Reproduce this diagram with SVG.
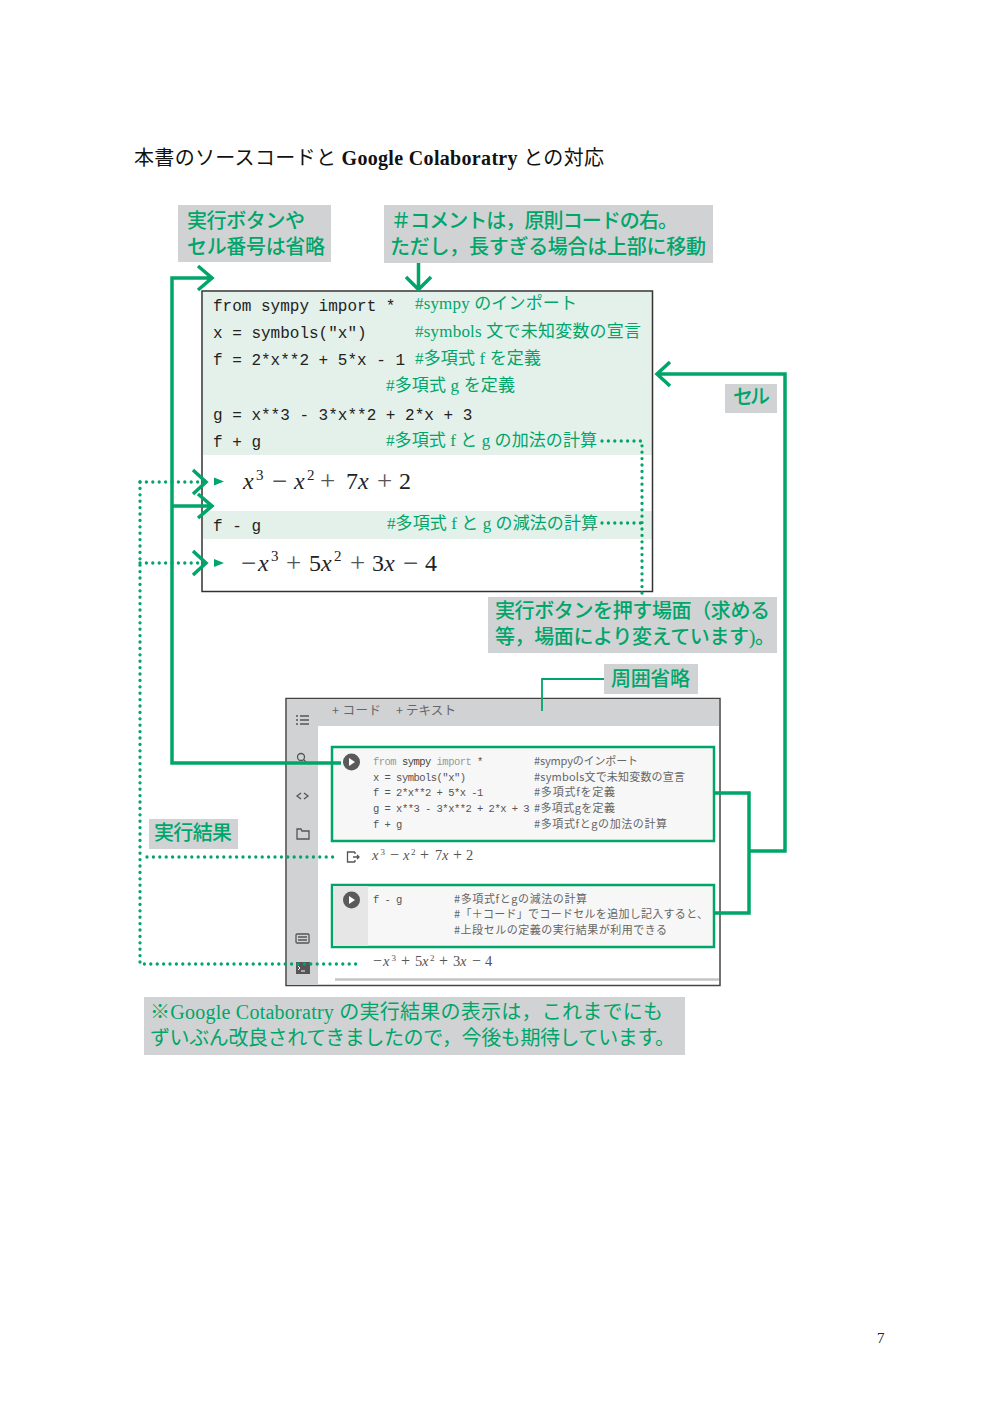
<svg xmlns="http://www.w3.org/2000/svg" width="1000" height="1419" viewBox="0 0 1000 1419">
<style>
text{font-family:"Liberation Serif","Noto Sans CJK JP",serif;white-space:pre}
.lab{fill:#00a56a;font-size:20px;font-weight:500}
.labn{fill:#00a56a;font-size:20px}
.bg{fill:#d1d2d4}
.code{font-family:"Liberation Mono","Noto Sans CJK JP",monospace;font-size:16px;fill:#222}
.cm{fill:#00a56a;font-size:17px}
.m{font-size:24px;fill:#222}
.e{font-size:15px}
.o{font-size:27px;fill:#555}
.s{font-size:14.500px;fill:#555}
.so{font-size:16px}
.se{font-size:9px}
.c2{font-family:"Liberation Mono","Noto Sans CJK JP",monospace;font-size:10.500px;fill:#555;letter-spacing:-.52px}
.c3{font-family:"Noto Sans CJK JP","Liberation Sans",sans-serif;font-size:11px;fill:#666}
.g{fill:none;stroke:#00a56a;stroke-width:3.500}
.d{fill:none;stroke:#00a56a;stroke-width:3.300;stroke-linecap:round;stroke-dasharray:0 6.400}
.ic{fill:none;stroke:#555;stroke-width:1.300}
.i{font-style:italic}
</style>
<g id="title"><text x="134" y="165" font-size="20" fill="#111" textLength="470" style="font-family:'Noto Sans CJK JP',sans-serif">本書のソースコードと<tspan font-weight="700" style="font-family:'Liberation Serif',serif"> Google Colaboratry </tspan>との対応</text></g>

<g id="note-run"><rect class="bg" x="178" y="205" width="153" height="57"/><text class="lab" x="187" y="228" textLength="118">実行ボタンや</text><text class="lab" x="187" y="254" textLength="138">セル番号は省略</text></g>
<g id="note-comment"><rect class="bg" x="384" y="205" width="329" height="58"/><text class="lab" x="391" y="228" textLength="287">＃コメントは，原則コードの右。</text><text class="lab" x="390" y="254" textLength="316">ただし，長すぎる場合は上部に移動</text></g>

<g id="code-panel">
<rect x="203" y="292" width="449" height="163" fill="#e3f1ea"/>
<rect x="203" y="511" width="449" height="28" fill="#e3f1ea"/>
<rect x="202" y="291" width="450.500" height="300.500" fill="none" stroke="#333" stroke-width="1.500"/>
<text class="code" x="213" y="311">from sympy import *</text>
<text class="code" x="213" y="338">x = symbols("x")</text>
<text class="code" x="213" y="365">f = 2*x**2 + 5*x - 1</text>
<text class="code" x="213" y="420">g = x**3 - 3*x**2 + 2*x + 3</text>
<text class="code" x="213" y="447">f + g</text>
<text class="code" x="213" y="531">f - g</text>
<text class="cm" x="415" y="309" textLength="162">#sympy のインポート</text>
<text class="cm" x="415" y="337" textLength="226">#symbols 文で未知変数の宣言</text>
<text class="cm" x="415" y="364" textLength="126">#多項式 f を定義</text>
<text class="cm" x="386" y="391" textLength="129">#多項式 g を定義</text>
<text class="cm" x="386" y="446" textLength="211">#多項式 f と g の加法の計算</text>
<text class="cm" x="387" y="529" textLength="211">#多項式 f と g の減法の計算</text>
<polygon points="214,477.500 224,481.500 214,485.500" fill="#00a56a"/>
<polygon points="214,559 224,563 214,567" fill="#00a56a"/>
<text class="m" y="489"><tspan class="i" x="243">x</tspan><tspan class="e" x="256" y="480">3</tspan><tspan class="o" x="272" y="490">−</tspan><tspan class="i" x="294" y="489">x</tspan><tspan class="e" x="307" y="480">2</tspan><tspan class="o" x="320" y="490">+</tspan><tspan x="346" y="489">7</tspan><tspan class="i" x="358">x</tspan><tspan class="o" x="377" y="490">+</tspan><tspan x="399" y="489">2</tspan></text>
<text class="m" y="571"><tspan class="o" x="241" y="572">−</tspan><tspan class="i" x="258" y="571">x</tspan><tspan class="e" x="271" y="561">3</tspan><tspan class="o" x="286" y="572">+</tspan><tspan x="309" y="571">5</tspan><tspan class="i" x="321">x</tspan><tspan class="e" x="334" y="561">2</tspan><tspan class="o" x="350" y="572">+</tspan><tspan x="372" y="571">3</tspan><tspan class="i" x="384">x</tspan><tspan class="o" x="403" y="572">−</tspan><tspan x="425" y="571">4</tspan></text>
</g>

<g id="note-cell"><rect class="bg" x="725" y="384" width="52" height="29"/><text class="lab" x="733" y="404" textLength="37">セル</text></g>
<g id="note-press"><rect class="bg" x="488" y="597" width="289" height="56"/><text class="lab" x="495" y="618" textLength="275">実行ボタンを押す場面（求める</text><text class="lab" x="495" y="644" textLength="280">等，場面により変えています)。</text></g>
<g id="note-omit"><rect class="bg" x="604" y="664" width="94" height="30"/><text class="lab" x="611" y="686" textLength="79">周囲省略</text></g>
<g id="note-result"><rect class="bg" x="149" y="819" width="89" height="30"/><text class="lab" x="154" y="840" textLength="78">実行結果</text></g>
<g id="note-bottom"><rect class="bg" x="144" y="997" width="541" height="58"/><text class="labn" x="150" y="1019" textLength="513">※Google Cotaboratry の実行結果の表示は，これまでにも</text><text class="labn" x="150" y="1045" textLength="525">ずいぶん改良されてきましたので，今後も期待しています。</text></g>

<g id="colab">
<rect x="286" y="698.500" width="434" height="287" fill="#fff" stroke="#444" stroke-width="1.500"/>
<rect x="287" y="699" width="31" height="286" fill="#d1d2d4"/>
<rect x="287" y="699" width="432" height="27" fill="#d1d2d4"/>
<text x="332" y="715" font-size="12.500" fill="#666" textLength="49" style="font-family:'Noto Sans CJK JP',sans-serif">+ コード</text>
<text x="396" y="715" font-size="12.500" fill="#666" textLength="60" style="font-family:'Noto Sans CJK JP',sans-serif">+ テキスト</text>
<path class="ic" d="M296 716h2M300 716h9M296 720h2M300 720h9M296 724h2M300 724h9"/>
<circle class="ic" cx="301" cy="757" r="3.500"/><path class="ic" d="M303.500 759.500l3 3"/>
<path class="ic" d="M301 793l-4 3 4 3M304 793l4 3-4 3"/>
<path class="ic" d="M297 829h4l1 2h7v8h-12z"/>
<rect class="ic" x="296" y="934" width="13" height="9" rx="1"/><path class="ic" d="M298 937h9M298 940h9" stroke-width="1"/>
<rect x="296" y="962" width="14" height="12" fill="#555"/><path d="M298 966l2 2-2 2M301 971h4" fill="none" stroke="#fff" stroke-width="1"/>
</g>
<g id="cell-1">
<rect x="332" y="747" width="382" height="94" fill="#f7f7f7" stroke="#00a56a" stroke-width="2.500"/>
<circle cx="351.500" cy="762" r="8.500" fill="#5a5a5a"/><polygon points="349,758 349,766 355,762" fill="#fff"/>
<text class="c2" x="373" y="765" style="fill:#999">from <tspan style="fill:#444">sympy</tspan> import <tspan style="fill:#555">*</tspan></text>
<text class="c2" x="373" y="781">x = symbols("x")</text>
<text class="c2" x="373" y="796">f = 2*x**2 + 5*x -1</text>
<text class="c2" x="373" y="812">g = x**3 - 3*x**2 + 2*x + 3</text>
<text class="c2" x="373" y="828">f + g</text>
<text class="c3" x="534" y="765" textLength="104">#sympyのインポート</text>
<text class="c3" x="534" y="781" textLength="151">#symbols文で未知変数の宣言</text>
<text class="c3" x="534" y="796" textLength="81">#多項式fを定義</text>
<text class="c3" x="534" y="812" textLength="81">#多項式gを定義</text>
<text class="c3" x="534" y="828" textLength="133">#多項式fとgの加法の計算</text>
</g>
<g id="output-1">
<path class="ic" d="M355 852h-7.500v10h7.500M355 852v2M355 862v-2M353 857h6M357 855l2 2-2 2"/>
<text class="s" y="860"><tspan class="i" x="372">x</tspan><tspan class="se" x="380.500" y="855">3</tspan><tspan class="so" x="390" y="860">−</tspan><tspan class="i" x="403">x</tspan><tspan class="se" x="411" y="855">2</tspan><tspan class="so" x="420" y="860">+</tspan><tspan x="435">7</tspan><tspan class="i" x="442">x</tspan><tspan class="so" x="453">+</tspan><tspan x="466">2</tspan></text>
</g>
<g id="cell-2">
<rect x="335" y="948" width="384" height="31" fill="#fff"/>
<path d="M335 979.500H719" stroke="#c4c4c4" stroke-width="2.500" fill="none"/>
<rect x="332" y="885" width="382" height="62" fill="#f7f7f7" stroke="#00a56a" stroke-width="2.500"/>
<rect x="333" y="886" width="35" height="60" fill="#e6e6e7"/>
<circle cx="351.500" cy="900" r="8.500" fill="#5a5a5a"/><polygon points="349,896 349,904 355,900" fill="#fff"/>
<text class="c2" x="373" y="903">f - g</text>
<text class="c3" x="454" y="903" textLength="133">#多項式fとgの減法の計算</text>
<text class="c3" x="454" y="918" textLength="254">#「＋コード」でコードセルを追加し記入すると、</text>
<text class="c3" x="454" y="934" textLength="213">#上段セルの定義の実行結果が利用できる</text>
<text class="s" y="966"><tspan class="so" x="373">−</tspan><tspan class="i" x="383">x</tspan><tspan class="se" x="391.500" y="961">3</tspan><tspan class="so" x="401" y="966">+</tspan><tspan x="415">5</tspan><tspan class="i" x="422">x</tspan><tspan class="se" x="430" y="961">2</tspan><tspan class="so" x="439" y="966">+</tspan><tspan x="453">3</tspan><tspan class="i" x="460">x</tspan><tspan class="so" x="472">−</tspan><tspan x="485">4</tspan></text>
</g>

<g id="connectors">
<path class="g" d="M341 763H172V278H212M198 266l14 12-14 12"/>
<path class="g" d="M172 506H212M198 494l14 12-14 12"/>
<path class="g" d="M418.500 263V289M406 277l12.500 12.500 12.500-12.500"/>
<path class="g" d="M714 793H749V913H714M749 851H785V374H657M670 362l-13 12 13 12"/>
<path d="M542 711V679H604" fill="none" stroke="#00a56a" stroke-width="1.800"/>
<path class="d" d="M140 482H205M140 563H205"/>
<path class="d" d="M140 482V964H358M147 857H338"/>
<path class="g" d="M193 470l13 12-13 12M193 551l13 12-13 12"/>
<path class="d" d="M602 441H642V596M602 523H642"/>
</g>

<g id="page-number"><text x="877" y="1343" font-size="15" fill="#222">7</text></g>
</svg>
